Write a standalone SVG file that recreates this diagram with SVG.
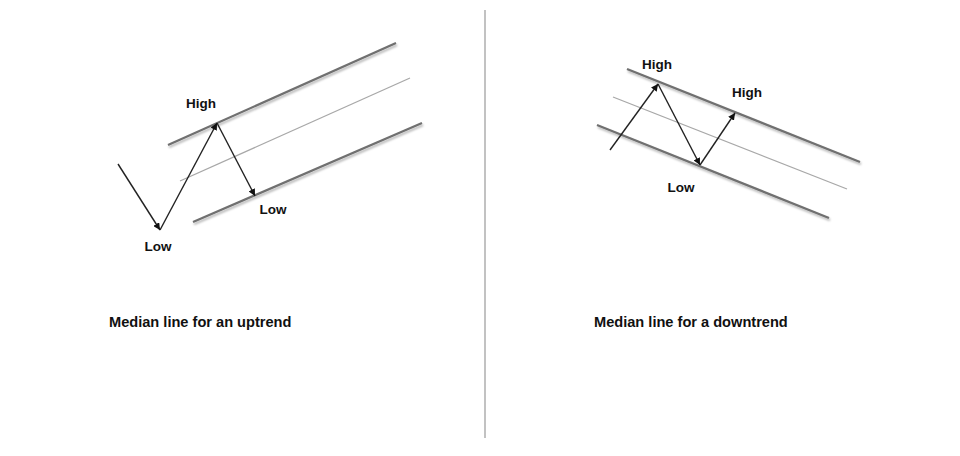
<svg xmlns="http://www.w3.org/2000/svg" width="960" height="456" viewBox="0 0 960 456">
<defs>
<marker id="ah" viewBox="0 0 10 10" refX="10" refY="5" markerWidth="7" markerHeight="7" orient="auto" markerUnits="userSpaceOnUse"><path d="M0,0 L10,5 L0,10 z" fill="#111"/></marker>
<filter id="sh" x="-10%" y="-50%" width="120%" height="200%"><feDropShadow dx="1" dy="2" stdDeviation="1.2" flood-color="#000" flood-opacity="0.3"/></filter>
</defs>
<style>
.ch{stroke:#6f6f6f;stroke-width:2.2;filter:url(#sh)}
.md{stroke:#a8a8a8;stroke-width:1.3}
.ar{stroke:#222;stroke-width:1.4;fill:none;marker-end:url(#ah)}
text{font-family:"Liberation Sans",Arial,sans-serif;font-weight:bold;font-size:13.5px;fill:#111}
.cap{font-size:14.6px}
</style>
<rect width="960" height="456" fill="#fff"/>
<line x1="485" y1="10" x2="485" y2="438" stroke="#999" stroke-width="1.2"/>
<g id="left">
<line class="ch" x1="168" y1="145" x2="396" y2="43"/>
<line class="md" x1="180" y1="181" x2="410" y2="78"/>
<line class="ch" x1="193" y1="222" x2="422" y2="123"/>
</g>
<g id="right">
<line class="ch" x1="627" y1="69" x2="860" y2="162"/>
<line class="md" x1="613" y1="97" x2="847" y2="189"/>
<line class="ch" x1="597" y1="125" x2="829" y2="218"/>
</g>
<g id="connectors">
<line class="ar" x1="118" y1="164" x2="160" y2="230"/>
<line class="ar" x1="160" y1="230" x2="217" y2="123"/>
<line class="ar" x1="217" y1="123" x2="255" y2="196"/>
<line class="ar" x1="610" y1="150" x2="658" y2="84"/>
<line class="ar" x1="658" y1="84" x2="700" y2="165"/>
<line class="ar" x1="700" y1="165" x2="735" y2="113"/>
</g>
<g id="labels">
<text x="201" y="108" text-anchor="middle">High</text>
<text x="273" y="214" text-anchor="middle">Low</text>
<text x="158" y="251" text-anchor="middle">Low</text>
<text x="657" y="69" text-anchor="middle">High</text>
<text x="747" y="97" text-anchor="middle">High</text>
<text x="681" y="192" text-anchor="middle">Low</text>
<text class="cap" x="109" y="327">Median line for an uptrend</text>
<text class="cap" x="594" y="327">Median line for a downtrend</text>
</g>
</svg>
